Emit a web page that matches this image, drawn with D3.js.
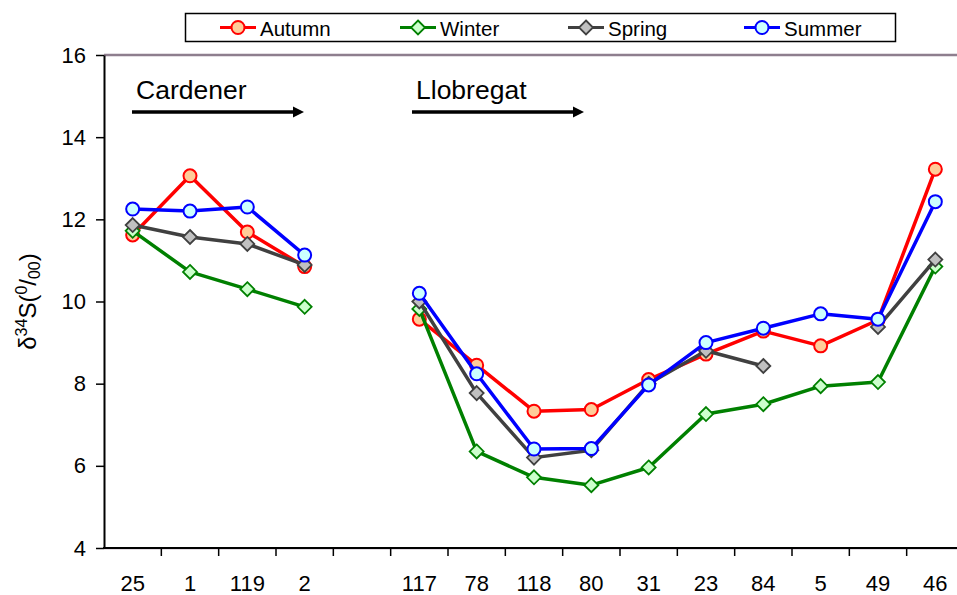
<!DOCTYPE html>
<html>
<head>
<meta charset="utf-8">
<script src="https://cdn.jsdelivr.net/npm/d3@7"></script>
<style>
  body { margin: 0; background: #fff; }
  text { font-family: Arial, "Liberation Sans", sans-serif; fill: #000; }
</style>
</head>
<body>
<svg id="chart" width="957" height="595"></svg>
<script>
// sampling sites, "" is the empty slot between the two rivers
const categories = ["25", "1", "119", "2", "", "117", "78", "118", "80", "31", "23", "84", "5", "49", "46"];
const yTicks = [4, 6, 8, 10, 12, 14, 16];

const autumn = [11.62, 13.06, 11.69, 10.85, null, 9.57, 8.45, 7.33, 7.37, 8.1, 8.72, 9.28, 8.92, 9.55, 13.22];
const winter = [11.72, 10.72, 10.3, 9.87, null, 9.82, 6.35, 5.72, 5.53, 5.96, 7.26, 7.5, 7.94, 8.04, 10.85];
const spring = [11.86, 11.57, 11.4, 10.89, null, 10.0, 7.77, 6.2, 6.38, 8.0, 8.8, 8.43, null, 9.38, 11.02];
const summer = [12.25, 12.2, 12.3, 11.13, null, 10.2, 8.24, 6.41, 6.42, 7.97, 9.0, 9.35, 9.7, 9.57, 12.43];

const seriesNames = ["Autumn", "Winter", "Spring", "Summer"];

const series = [
    { name: "Autumn", values: autumn, stroke: "#ff0000", fill: "#ffcc99", shape: "circle" },
    { name: "Winter", values: winter, stroke: "#008000", fill: "#ccffcc", shape: "diamond" },
    { name: "Spring", values: spring, stroke: "#404040", fill: "#c0c0c0", shape: "diamond" },
    { name: "Summer", values: summer, stroke: "#0000ff", fill: "#ccffff", shape: "circle" }
];

const size = {
    width: 957,
    height: 595,
    margin: { top: 55, right: -7, bottom: 47, left: 104 }
};
const svg = d3.select("#chart");

const x = d3.scaleBand()
    .domain(categories)
    .range([size.margin.left, size.width - size.margin.right])
    .padding(0);

const y = d3.scaleLinear()
    .domain([4, 16])
    .range([size.height - size.margin.bottom, size.margin.top]);

const cx = i => x(categories[i]) + x.bandwidth() / 2;

// top border of plot area
svg.append("line")
    .attr("x1", size.margin.left).attr("x2", size.width)
    .attr("y1", y(16)).attr("y2", y(16))
    .attr("stroke", "#8e7e8e").attr("stroke-width", 2.5);

// y axis
const yAxis = svg.append("g")
    .attr("transform", `translate(${size.margin.left},0)`)
    .call(d3.axisLeft(y).tickValues(yTicks).tickSize(8).tickSizeOuter(0).tickPadding(10));
yAxis.select(".domain").attr("stroke", "#000").attr("stroke-width", 2);
yAxis.selectAll(".tick line").attr("stroke", "#000").attr("stroke-width", 1.5);
yAxis.selectAll("text").attr("font-size", 22).attr("font-family", "Arial, 'Liberation Sans', sans-serif");

// x axis: labels centred, ticks between categories
const xAxis = svg.append("g")
    .attr("transform", `translate(0,${y(4)})`)
    .call(d3.axisBottom(x).tickSize(0).tickPadding(27).tickSizeOuter(0));
xAxis.select(".domain").remove();
xAxis.selectAll("text").attr("font-size", 22).attr("font-family", "Arial, 'Liberation Sans', sans-serif");

svg.append("line")
    .attr("x1", size.margin.left).attr("x2", size.width)
    .attr("y1", y(4) + 1).attr("y2", y(4) + 1)
    .attr("stroke", "#c8bcc8").attr("stroke-width", 1);
svg.append("line")
    .attr("x1", size.margin.left - 1).attr("x2", size.width)
    .attr("y1", y(4)).attr("y2", y(4))
    .attr("stroke", "#000").attr("stroke-width", 2);

svg.append("g")
    .selectAll("line")
    .data(categories.slice(1))
    .join("line")
    .attr("x1", d => x(d)).attr("x2", d => x(d))
    .attr("y1", y(4)).attr("y2", y(4) + 8)
    .attr("stroke", "#000").attr("stroke-width", 1.5);

// y axis title: δ34S(0/00)
const yTitle = svg.append("text")
    .attr("transform", `translate(36,${(y(4) + y(16)) / 2}) rotate(-90)`)
    .attr("text-anchor", "middle")
    .attr("font-size", 24);
yTitle.append("tspan").text("δ");
yTitle.append("tspan").attr("font-size", 16).attr("dy", -9).text("34");
yTitle.append("tspan").attr("dy", 9).text("S(");
yTitle.append("tspan").attr("font-size", 16).attr("dy", -9).text("0");
yTitle.append("tspan").attr("dy", 9).text("/");
yTitle.append("tspan").attr("font-size", 16).attr("dy", 4).text("00");
yTitle.append("tspan").attr("dy", -4).text(")");

// river annotations
const rivers = [
    { label: "Cardener", x1: 132, x2: 304 },
    { label: "Llobregat", x1: 412, x2: 584 }
];
rivers.forEach(r => {
    svg.append("text")
        .attr("x", r.x1 + 4).attr("y", 99)
        .attr("font-size", 26.5)
        .text(r.label);
    svg.append("line")
        .attr("x1", r.x1).attr("x2", r.x2 - 9)
        .attr("y1", 112).attr("y2", 112)
        .attr("stroke", "#000").attr("stroke-width", 3.5);
    svg.append("path")
        .attr("d", `M${r.x2 - 11},106.5 L${r.x2},112 L${r.x2 - 11},117.5 Z`)
        .attr("fill", "#000");
});

// series
const line = d3.line()
    .defined(d => d.v !== null)
    .x(d => cx(d.i))
    .y(d => y(d.v));

const diamond = (px, py, r) => `M${px},${py - r} L${px + r},${py} L${px},${py + r} L${px - r},${py} Z`;

function drawMarker(g, shape, px, py, s) {
    if (shape === "circle") {
        g.append("circle")
            .attr("cx", px).attr("cy", py).attr("r", 6.5)
            .attr("fill", s.fill).attr("stroke", s.stroke).attr("stroke-width", 2);
    } else {
        g.append("path")
            .attr("d", diamond(px, py, 7))
            .attr("fill", s.fill).attr("stroke", s.stroke).attr("stroke-width", 1.8);
    }
}

series.forEach(s => {
    const pts = s.values.map((v, i) => ({ v, i }));
    const g = svg.append("g");
    g.append("path")
        .datum(pts)
        .attr("d", line)
        .attr("fill", "none")
        .attr("stroke", s.stroke)
        .attr("stroke-width", 3.5)
        .attr("stroke-linejoin", "round");
    pts.filter(d => d.v !== null).forEach(d => drawMarker(g, s.shape, cx(d.i), y(d.v), s));
});

// legend
svg.append("rect")
    .attr("x", 185.5).attr("y", 13.5)
    .attr("width", 710).attr("height", 28)
    .attr("fill", "#fff").attr("stroke", "#000").attr("stroke-width", 1.5);

const legendX = [220, 400, 568, 744];
series.forEach((s, i) => {
    const lx = legendX[i];
    const g = svg.append("g");
    g.append("line")
        .attr("x1", lx).attr("x2", lx + 36)
        .attr("y1", 27.5).attr("y2", 27.5)
        .attr("stroke", s.stroke).attr("stroke-width", 3);
    drawMarker(g, s.shape, lx + 18, 27.5, s);
    g.append("text")
        .attr("x", lx + 40).attr("y", 35.5)
        .attr("font-size", 20.5)
        .text(seriesNames[i]);
});
</script>
</body>
</html>
